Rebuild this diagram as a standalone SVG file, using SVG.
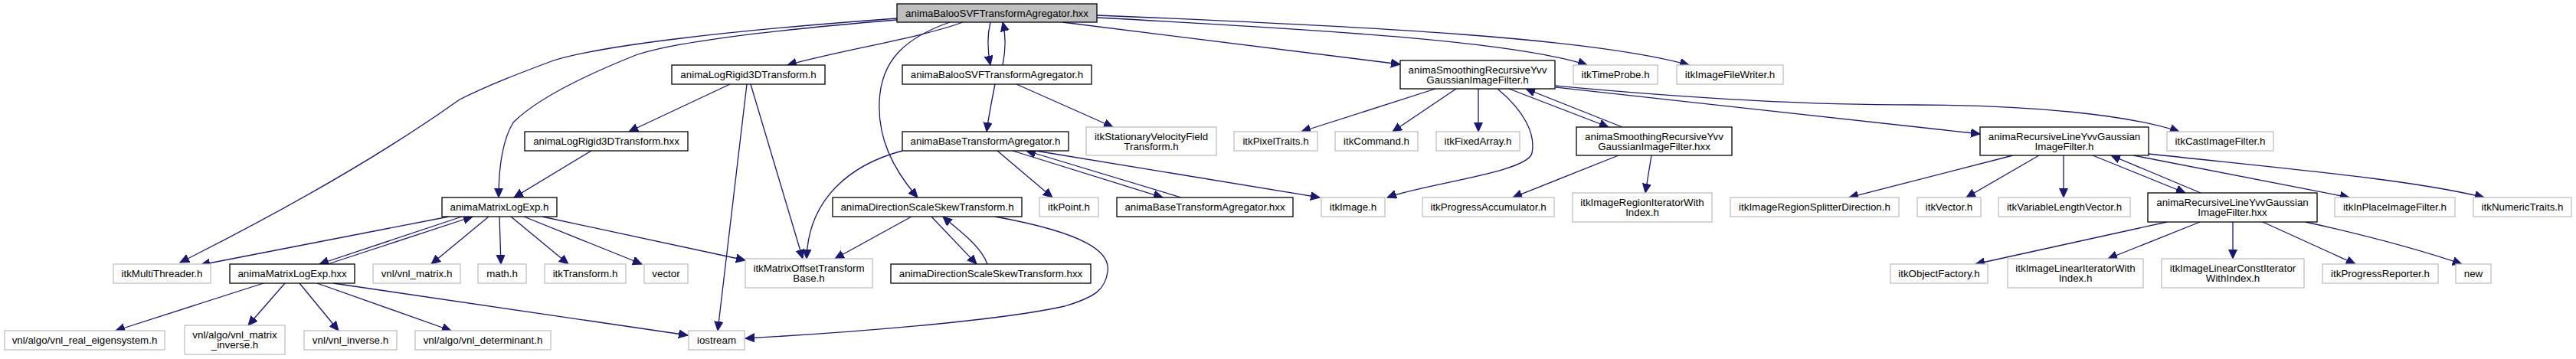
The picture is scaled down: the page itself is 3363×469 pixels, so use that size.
<svg xmlns="http://www.w3.org/2000/svg" width="3363" height="469" viewBox="0 0 3363 469">
<defs>
<marker id="a" markerUnits="userSpaceOnUse" markerWidth="13" markerHeight="12" refX="12" refY="5.5" orient="auto"><path d="M0,0 L12,5.5 L0,11 Z" fill="#191970" stroke="#191970" stroke-width="1"/></marker>
<style>
text{font-family:"Liberation Sans",Arial,Helvetica,sans-serif;font-size:13.33px;text-anchor:middle;fill:#000}
.n rect{fill:#fff;stroke:#000;stroke-width:1.3}
.g rect{fill:#fff;stroke:#bfbfbf;stroke-width:1.3}
.r rect{fill:#bfbfbf;stroke:#000;stroke-width:1.3}
#edges path{fill:none;stroke:#191970;stroke-width:1.3;marker-end:url(#a)}
</style>
</defs>
<rect width="3363" height="469" fill="#fff"/>
<g id="edges">
<path d="M1171,24 C950,40 780,60 720,80 C680,95 640,110 600,130 C530,180 420,250 235,343"/>
<path d="M1171,26 C1000,40 880,55 830,72 C760,100 700,130 670,160 C655,185 651,220 651,258"/>
<path d="M1257,29 C1200,50 1100,65 1028,85"/>
<path d="M1293,29 C1289,45 1289,65 1293,85"/>
<path d="M1309,85 C1313,65 1313,45 1309,29"/>
<path d="M1240,29 C1180,50 1150,80 1148,133 C1146,180 1165,220 1198,258"/>
<path d="M1387,29 L1828,84"/>
<path d="M1432,23 C1750,40 1980,55 2072,85"/>
<path d="M1432,20 C1800,35 2080,50 2205,85"/>
<path d="M1874,116 L1699,172"/>
<path d="M1901,116 L1818,172"/>
<path d="M1930,116 L1930,172"/>
<path d="M1955,116 C1990,145 2005,175 2000,200 C1995,225 1860,240 1811,258"/>
<path d="M1970,116 L2100,166"/>
<path d="M2118,166 L1992,116"/>
<path d="M2031,114 L2585,175"/>
<path d="M2031,112 C2200,128 2350,137 2500,137 C2650,137 2780,150 2845,172"/>
<path d="M2113,203 L1975,258"/>
<path d="M2156,203 L2148,252"/>
<path d="M2628,203 L2414,258"/>
<path d="M2662,203 L2567,258"/>
<path d="M2694,203 L2694,258"/>
<path d="M2732,203 L2853,252"/>
<path d="M2873,252 L2756,203"/>
<path d="M2785,203 L3067,258"/>
<path d="M2805,201 C3000,222 3150,235 3243,258"/>
<path d="M2829,290 L2579,345"/>
<path d="M2872,290 L2752,338"/>
<path d="M2915,290 L2915,338"/>
<path d="M2954,290 L3075,345"/>
<path d="M3010,290 C3100,310 3170,330 3214,345"/>
<path d="M1178,197 C1110,215 1055,260 1053,338"/>
<path d="M1302,197 L1374,258"/>
<path d="M1322,197 L1518,258"/>
<path d="M1542,258 L1340,197"/>
<path d="M1352,197 L1723,258"/>
<path d="M1299,110 C1295,130 1291,150 1288,172"/>
<path d="M1327,110 L1453,166"/>
<path d="M953,110 L821,172"/>
<path d="M975,110 L937,432"/>
<path d="M980,110 L1048,338"/>
<path d="M772,197 L671,258"/>
<path d="M586,283 L262,346"/>
<path d="M603,283 L417,345"/>
<path d="M428,345 L617,283"/>
<path d="M638,283 L563,345"/>
<path d="M652,283 L654,345"/>
<path d="M667,283 L742,345"/>
<path d="M684,283 L838,345"/>
<path d="M708,283 L973,340"/>
<path d="M344,370 L151,432"/>
<path d="M372,370 L324,425"/>
<path d="M391,370 L442,432"/>
<path d="M414,370 L589,432"/>
<path d="M435,370 L898,438"/>
<path d="M1190,283 L1090,338"/>
<path d="M1216,283 L1275,345"/>
<path d="M1289,345 C1280,320 1250,300 1231,283"/>
<path d="M1299,283 C1420,305 1450,330 1446,355 C1443,378 1430,388 1390,400 C1300,420 1100,435 973,442"/>
</g>
<g id="n_root" class="r"><rect x="1171" y="5" width="261" height="24"/><text x="1301.5" y="21.5">animaBalooSVFTransformAgregator.hxx</text></g>
<g id="n_logrigid_h" class="n"><rect x="877" y="85" width="200" height="25"/><text x="977" y="102">animaLogRigid3DTransform.h</text></g>
<g id="n_baloo_h" class="n"><rect x="1178" y="85" width="247" height="25"/><text x="1301.5" y="102">animaBalooSVFTransformAgregator.h</text></g>
<g id="n_smooth_h" class="n"><rect x="1828" y="79" width="202" height="37"/><text x="1929" y="95.5">animaSmoothingRecursiveYvv</text><text x="1929" y="109">GaussianImageFilter.h</text></g>
<g id="n_timeprobe" class="g"><rect x="2054" y="85" width="110" height="25"/><text x="2109" y="102">itkTimeProbe.h</text></g>
<g id="n_filewriter" class="g"><rect x="2189" y="85" width="139" height="25"/><text x="2258.5" y="102">itkImageFileWriter.h</text></g>
<g id="n_logrigid_hxx" class="n"><rect x="685" y="172" width="213" height="25"/><text x="791.5" y="189">animaLogRigid3DTransform.hxx</text></g>
<g id="n_base_h" class="n"><rect x="1178" y="172" width="217" height="25"/><text x="1286.5" y="189">animaBaseTransformAgregator.h</text></g>
<g id="n_svf" class="g"><rect x="1418" y="166" width="170" height="37"/><text x="1503" y="182.5">itkStationaryVelocityField</text><text x="1503" y="196">Transform.h</text></g>
<g id="n_pixeltraits" class="g"><rect x="1611" y="172" width="109" height="25"/><text x="1665.5" y="189">itkPixelTraits.h</text></g>
<g id="n_command" class="g"><rect x="1743" y="172" width="108" height="25"/><text x="1797" y="189">itkCommand.h</text></g>
<g id="n_fixedarray" class="g"><rect x="1875" y="172" width="109" height="25"/><text x="1929.5" y="189">itkFixedArray.h</text></g>
<g id="n_smooth_hxx" class="n"><rect x="2058" y="166" width="203" height="37"/><text x="2159.5" y="182.5">animaSmoothingRecursiveYvv</text><text x="2159.5" y="196">GaussianImageFilter.hxx</text></g>
<g id="n_recline_h" class="n"><rect x="2585" y="166" width="220" height="37"/><text x="2695" y="182.5">animaRecursiveLineYvvGaussian</text><text x="2695" y="196">ImageFilter.h</text></g>
<g id="n_cast" class="g"><rect x="2829" y="172" width="139" height="25"/><text x="2898.5" y="189">itkCastImageFilter.h</text></g>
<g id="n_matrix_h" class="n"><rect x="577" y="258" width="150" height="25"/><text x="652" y="275">animaMatrixLogExp.h</text></g>
<g id="n_dir_h" class="n"><rect x="1087" y="258" width="247" height="25"/><text x="1210.5" y="275">animaDirectionScaleSkewTransform.h</text></g>
<g id="n_point" class="g"><rect x="1357" y="258" width="77" height="25"/><text x="1395.5" y="275">itkPoint.h</text></g>
<g id="n_base_hxx" class="n"><rect x="1458" y="258" width="230" height="25"/><text x="1573" y="275">animaBaseTransformAgregator.hxx</text></g>
<g id="n_image" class="g"><rect x="1725" y="258" width="83" height="25"/><text x="1766.5" y="275">itkImage.h</text></g>
<g id="n_progacc" class="g"><rect x="1857" y="258" width="172" height="25"/><text x="1943" y="275">itkProgressAccumulator.h</text></g>
<g id="n_regioniter" class="g"><rect x="2053" y="252" width="182" height="38"/><text x="2144" y="268.5">itkImageRegionIteratorWith</text><text x="2144" y="282">Index.h</text></g>
<g id="n_splitter" class="g"><rect x="2259" y="258" width="220" height="25"/><text x="2369" y="275">itkImageRegionSplitterDirection.h</text></g>
<g id="n_vector" class="g"><rect x="2503" y="258" width="83" height="25"/><text x="2544.5" y="275">itkVector.h</text></g>
<g id="n_varlen" class="g"><rect x="2609" y="258" width="172" height="25"/><text x="2695" y="275">itkVariableLengthVector.h</text></g>
<g id="n_recline_hxx" class="n"><rect x="2804" y="252" width="221" height="38"/><text x="2914.5" y="268.5">animaRecursiveLineYvvGaussian</text><text x="2914.5" y="282">ImageFilter.hxx</text></g>
<g id="n_inplace" class="g"><rect x="3048" y="258" width="157" height="25"/><text x="3126.5" y="275">itkInPlaceImageFilter.h</text></g>
<g id="n_numeric" class="g"><rect x="3229" y="258" width="128" height="25"/><text x="3293" y="275">itkNumericTraits.h</text></g>
<g id="n_multithreader" class="g"><rect x="148" y="345" width="127" height="25"/><text x="211.5" y="362">itkMultiThreader.h</text></g>
<g id="n_matrix_hxx" class="n"><rect x="300" y="345" width="163" height="25"/><text x="381.5" y="362">animaMatrixLogExp.hxx</text></g>
<g id="n_vnlmatrix" class="g"><rect x="487" y="345" width="114" height="25"/><text x="544" y="362">vnl/vnl_matrix.h</text></g>
<g id="n_math" class="g"><rect x="624" y="345" width="63" height="25"/><text x="655.5" y="362">math.h</text></g>
<g id="n_itktransform" class="g"><rect x="711" y="345" width="106" height="25"/><text x="764" y="362">itkTransform.h</text></g>
<g id="n_vector_std" class="g"><rect x="841" y="345" width="57" height="25"/><text x="869.5" y="362">vector</text></g>
<g id="n_matrixoffset" class="g"><rect x="973" y="338" width="166" height="38"/><text x="1056" y="354.5">itkMatrixOffsetTransform</text><text x="1056" y="368">Base.h</text></g>
<g id="n_dir_hxx" class="n"><rect x="1163" y="345" width="261" height="25"/><text x="1293.5" y="362">animaDirectionScaleSkewTransform.hxx</text></g>
<g id="n_objfactory" class="g"><rect x="2468" y="345" width="127" height="25"/><text x="2531.5" y="362">itkObjectFactory.h</text></g>
<g id="n_lineariter" class="g"><rect x="2621" y="338" width="177" height="38"/><text x="2709.5" y="354.5">itkImageLinearIteratorWith</text><text x="2709.5" y="368">Index.h</text></g>
<g id="n_linearconstiter" class="g"><rect x="2822" y="338" width="186" height="38"/><text x="2915" y="354.5">itkImageLinearConstIterator</text><text x="2915" y="368">WithIndex.h</text></g>
<g id="n_progreporter" class="g"><rect x="3032" y="345" width="151" height="25"/><text x="3107.5" y="362">itkProgressReporter.h</text></g>
<g id="n_new" class="g"><rect x="3206" y="345" width="46" height="25"/><text x="3229" y="362">new</text></g>
<g id="n_eigensystem" class="g"><rect x="6" y="432" width="209" height="25"/><text x="110.5" y="449">vnl/algo/vnl_real_eigensystem.h</text></g>
<g id="n_matinverse" class="g"><rect x="241" y="425" width="131" height="38"/><text x="306.5" y="441.5">vnl/algo/vnl_matrix</text><text x="306.5" y="455">_inverse.h</text></g>
<g id="n_vnlinverse" class="g"><rect x="397" y="432" width="121" height="25"/><text x="457.5" y="449">vnl/vnl_inverse.h</text></g>
<g id="n_determinant" class="g"><rect x="542" y="432" width="177" height="25"/><text x="630.5" y="449">vnl/algo/vnl_determinant.h</text></g>
<g id="n_iostream" class="g"><rect x="899" y="432" width="73" height="25"/><text x="935.5" y="449">iostream</text></g>
</svg>
